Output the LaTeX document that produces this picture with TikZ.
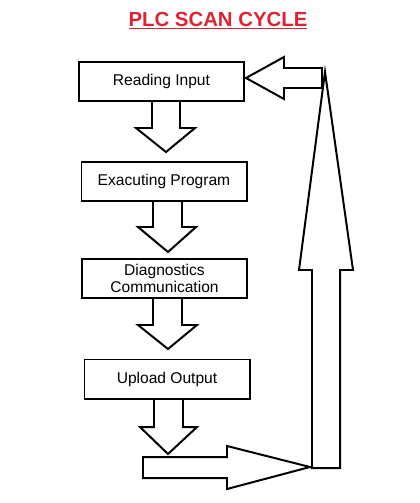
\documentclass[tikz,border=0pt]{standalone}
\usepackage{fontspec}
\setmainfont{Liberation Sans}
\usetikzlibrary{positioning}
\definecolor{titlered}{RGB}{222,35,50}
\tikzset{
  stagebox/.style={draw,line width=1.7pt,minimum width=4.95cm,minimum height=1.17cm,
    align=center,inner sep=0pt,font=\fontsize{13.3}{14.6}\selectfont},
  blockarrow/.style={draw,line width=1.7pt,line join=miter}
}
\begin{document}
\begin{tikzpicture}[x=0.03cm,y=-0.03cm]
\useasboundingbox (0,0) rectangle (420,503);
\node[font=\fontsize{17.4}{20}\selectfont\bfseries,text=titlered] (title) at (218,21) {\underline{PLC SCAN CYCLE}};
\node[stagebox] (read) at (161.5,81.5) {Reading Input};
\node[stagebox] (exec) at (164,181.5) {Exacuting Program};
\node[stagebox] (diag) at (164.5,278.5) {Diagnostics\\Communication};
\node[stagebox] (upload) at (167,379) {Upload Output};
% down arrows between the stages
\draw[blockarrow] (152,101)--(152,128)--(136,128)--(166,152)--(195,128)--(180,128)--(180,101);
\draw[blockarrow] (153,201)--(153,227)--(138,227)--(168,252)--(196,227)--(182,227)--(182,201);
\draw[blockarrow] (153,298)--(153,325)--(138,325)--(168,349)--(197,325)--(182,325)--(182,298);
\draw[blockarrow] (154,399)--(154,427)--(140,427)--(168,454)--(197,427)--(183,427)--(183,399);
% return path
\draw[blockarrow] (143,457)--(227,457)--(227,446)--(310,467)--(227,489)--(227,478)--(143,478)--cycle;
\draw[blockarrow] (312,468)--(312,270)--(299,270)--(325,72)--(353,270)--(340,270)--(340,468)--cycle;
\draw[blockarrow] (322,68)--(284,68)--(284,57)--(246,78)--(284,99)--(284,88)--(322,88)--cycle;
\end{tikzpicture}
\end{document}
